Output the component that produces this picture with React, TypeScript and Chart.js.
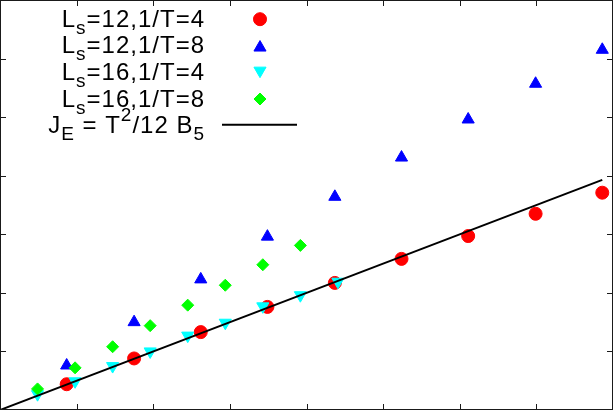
import { useEffect, useRef } from "react"
import { Chart, registerables } from "chart.js"
import { drawPoint } from "chart.js/helpers"

Chart.register(...registerables)

// axis tick positions (no labels in the picture, only the marks)
const xTicks = [0, 1, 2, 3, 4, 5, 6, 7, 8]
const yTicks = [0, 1, 2, 3, 4, 5, 6, 7]

// abscissae of the two lattice sizes
const x12 = [0.87, 1.75, 2.62, 3.49, 4.37, 5.24, 6.11, 6.99, 7.86]
const x16 = [0.49, 0.98, 1.47, 1.96, 2.45, 2.94, 3.43, 3.92, 4.41]

const ls12T4 = [0.44, 0.88, 1.33, 1.76, 2.17, 2.58, 2.97, 3.35, 3.71]
const ls12T8 = [0.76, 1.5, 2.23, 2.96, 3.64, 4.31, 4.96, 5.57, 6.15]
const ls16T4 = [0.27, 0.49, 0.75, 1.0, 1.27, 1.49, 1.77, 1.96, 2.19]
const ls16T8 = [0.36, 0.72, 1.08, 1.44, 1.79, 2.13, 2.48, 2.81]

const fitX = [0, 7.86]
const fitY = [0, 3.93]

// gnuplot-like enhanced text: _x subscript, ^x superscript
const labels = ["L_s=12,1/T=4", "L_s=12,1/T=8", "L_s=16,1/T=4", "L_s=16,1/T=8", "J_E = T^2/12 B_5"]

const FONT = '"Liberation Sans", Arial, sans-serif'

function pts(xs: number[], ys: number[]) {
  return ys.map((y, i) => ({ x: xs[i], y }))
}

function parseRich(s: string) {
  const segs: { t: string; k: number }[] = []
  let buf = ""
  for (let i = 0; i < s.length; i++) {
    const c = s[i]
    if (c === "_" || c === "^") {
      if (buf) segs.push({ t: buf, k: 0 })
      buf = ""
      segs.push({ t: s[i + 1], k: c === "_" ? 1 : -1 })
      i++
    } else buf += c
  }
  if (buf) segs.push({ t: buf, k: 0 })
  return segs
}

const framePlugin = {
  id: "gnuplotFrame",
  afterDraw(chart: any) {
    const { ctx, chartArea } = chart
    const { left, right, top, bottom } = chartArea
    const xs = chart.scales.x
    const ys = chart.scales.y
    ctx.save()
    ctx.strokeStyle = "#1a1a1a"
    ctx.lineWidth = 1
    ctx.beginPath()
    for (const v of xTicks) {
      const p = Math.round(xs.getPixelForValue(v)) + 0.5
      ctx.moveTo(p, bottom)
      ctx.lineTo(p, bottom - 6)
      ctx.moveTo(p, top)
      ctx.lineTo(p, top + 6)
    }
    for (const v of yTicks) {
      const p = Math.round(ys.getPixelForValue(v)) + 0.5
      ctx.moveTo(left, p)
      ctx.lineTo(left + 6, p)
      ctx.moveTo(right, p)
      ctx.lineTo(right - 6, p)
    }
    ctx.stroke()
    ctx.strokeRect(left + 0.5, top + 0.5, right - left - 1, bottom - top - 1)

    // key, top left, text right-aligned with the sample to its right
    const mainFont = `24px ${FONT}`
    const smallFont = `19px ${FONT}`
    ctx.letterSpacing = "1px"
    ctx.textAlign = "left"
    ctx.textBaseline = "alphabetic"
    chart.data.datasets.forEach((ds: any, i: number) => {
      const base = 26.7 + i * 26.6
      const segs = parseRich(ds.label)
      let w = 0
      for (const s of segs) {
        ctx.font = s.k ? smallFont : mainFont
        w += ctx.measureText(s.t).width
      }
      let x = 205 - w
      ctx.fillStyle = "#000"
      for (const s of segs) {
        ctx.font = s.k ? smallFont : mainFont
        ctx.fillText(s.t, x, base + (s.k === 1 ? 7 : s.k === -1 ? -12 : 0))
        x += ctx.measureText(s.t).width
      }
      if (ds.showLine) {
        ctx.strokeStyle = ds.borderColor
        ctx.lineWidth = ds.borderWidth
        ctx.beginPath()
        ctx.moveTo(222, base - 8.3)
        ctx.lineTo(297, base - 8.3)
        ctx.stroke()
      } else {
        const r = ds.pointRadius
        const dy = ds.pointStyle === "triangle" ? (ds.rotation ? -r / 4 : r / 4) : 0
        ctx.fillStyle = ds.pointBackgroundColor
        ctx.strokeStyle = ds.pointBorderColor
        ctx.lineWidth = ds.pointBorderWidth
        drawPoint(
          ctx,
          { pointStyle: ds.pointStyle, rotation: ds.rotation || 0, radius: r, borderWidth: ds.pointBorderWidth },
          260,
          base - 7.5 + dy
        )
      }
    })
    ctx.restore()
  },
}

function marker(label: string, data: any[], color: string, style: string, radius: number, order: number, rotation = 0) {
  return {
    label,
    data,
    showLine: false,
    pointStyle: style,
    rotation,
    pointRadius: radius,
    pointBorderWidth: 1,
    pointBackgroundColor: color,
    pointBorderColor: color,
    order,
  }
}

export default function App() {
  const canvasRef = useRef<HTMLCanvasElement>(null)
  const chartRef = useRef<Chart | null>(null)

  useEffect(() => {
    if (!canvasRef.current) return
    document.body.style.margin = "0"
    if (chartRef.current) chartRef.current.destroy()
    const ctx = canvasRef.current.getContext("2d")
    if (!ctx) return

    chartRef.current = new Chart(ctx, {
      type: "scatter",
      data: {
        datasets: [
          marker(labels[0], pts(x12, ls12T4), "#ff0000", "circle", 6.5, 5),
          marker(labels[1], pts(x12, ls12T8), "#0000ff", "triangle", 7, 4),
          marker(labels[2], pts(x16, ls16T4), "#00ffff", "triangle", 7, 3, 180),
          marker(labels[3], pts(x16, ls16T8), "#00ff00", "rectRot", 6, 2),
          {
            label: labels[4],
            data: pts(fitX, fitY),
            showLine: true,
            borderColor: "#000000",
            borderWidth: 2,
            pointRadius: 0,
            order: 1,
          },
        ] as any,
      },
      options: {
        animation: false,
        responsive: true,
        maintainAspectRatio: false,
        events: [],
        layout: { padding: 0, autoPadding: false },
        clip: false as any,
        scales: {
          x: { type: "linear", display: false, min: 0, max: 8 },
          y: { type: "linear", display: false, min: 0, max: 7 },
        },
        plugins: {
          legend: { display: false },
          tooltip: { enabled: false },
        },
      },
      plugins: [framePlugin],
    })

    return () => {
      if (chartRef.current) {
        chartRef.current.destroy()
        chartRef.current = null
      }
    }
  }, [])

  return (
    <div style={{ position: "fixed", left: 0, top: 0, width: 613, height: 410, background: "#fff" }}>
      <canvas ref={canvasRef} />
    </div>
  )
}
